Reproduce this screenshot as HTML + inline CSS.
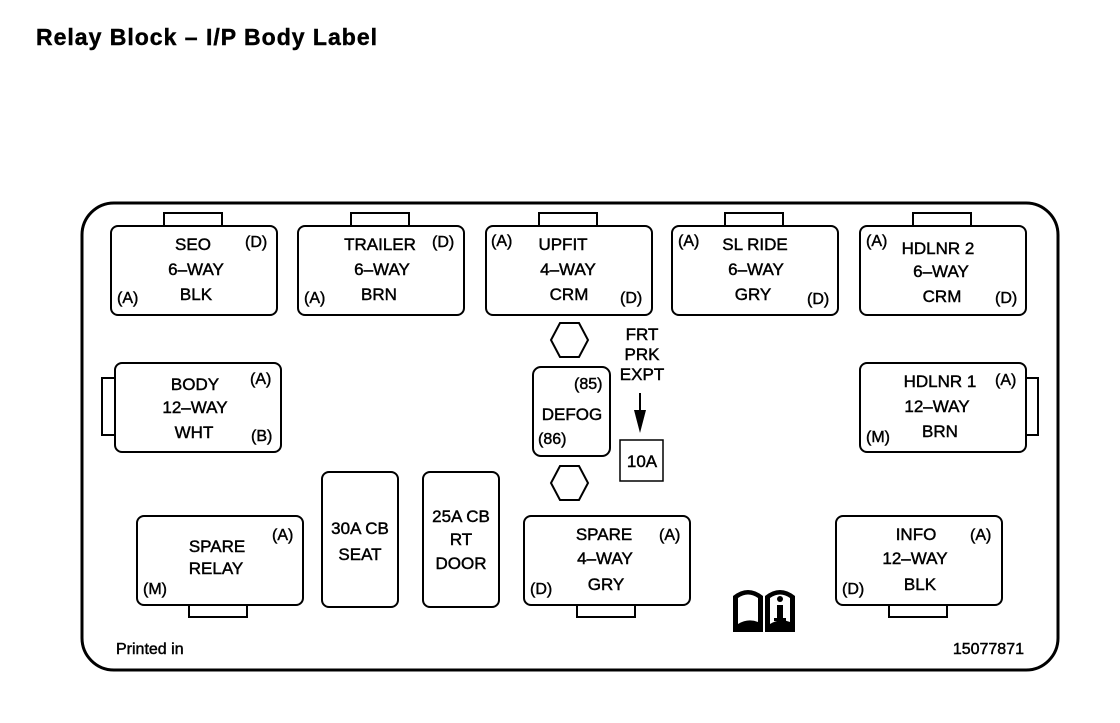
<!DOCTYPE html>
<html><head><meta charset="utf-8"><style>
body{margin:0;background:#fff;}
svg text{font-family:"Liberation Sans",Arial,sans-serif;fill:#000;stroke:#000;stroke-width:0.45;}
</style></head><body>
<svg width="1120" height="718" viewBox="0 0 1120 718" xmlns="http://www.w3.org/2000/svg">
<text x="36" y="45" font-size="23" font-weight="bold" stroke-width="0.3" textLength="341">Relay Block – I/P Body Label</text>
<rect x="82" y="203" width="976" height="467" rx="32" fill="none" stroke="#000" stroke-width="3"/>
<g fill="#fff" stroke="#000" stroke-width="2">
<rect x="164" y="213" width="58" height="13"/>
<rect x="351" y="213" width="58" height="13"/>
<rect x="539" y="213" width="58" height="13"/>
<rect x="725" y="213" width="58" height="13"/>
<rect x="913" y="213" width="58" height="13"/>
<rect x="111" y="226" width="166" height="89" rx="7"/>
<rect x="298" y="226" width="166" height="89" rx="7"/>
<rect x="486" y="226" width="166" height="89" rx="7"/>
<rect x="672" y="226" width="166" height="89" rx="7"/>
<rect x="860" y="226" width="166" height="89" rx="7"/>
<rect x="102" y="378" width="13" height="57"/>
<rect x="115" y="363" width="166" height="89" rx="7"/>
<rect x="1025" y="378" width="13" height="57"/>
<rect x="860" y="363" width="166" height="89" rx="7"/>
<rect x="533" y="367" width="77" height="89" rx="8"/>
<polygon points="560,323 579,323 588,340 579,357 560,357 551,340"/>
<polygon points="560,466 579,466 588,483 579,500 560,500 551,483"/>
<rect x="620" y="440" width="43" height="41" stroke-width="1.5"/>
<rect x="322" y="472" width="76" height="135" rx="7"/>
<rect x="423" y="472" width="76" height="135" rx="7"/>
<rect x="189" y="604" width="58" height="13"/>
<rect x="137" y="516" width="166" height="89" rx="7"/>
<rect x="577" y="604" width="58" height="13"/>
<rect x="524" y="516" width="166" height="89" rx="7"/>
<rect x="889" y="604" width="58" height="13"/>
<rect x="836" y="516" width="166" height="89" rx="7"/>
</g>
<line x1="640" y1="393" x2="640" y2="415" stroke="#000" stroke-width="2"/>
<polygon points="634,410 646,410 640,433" fill="#000"/>
<g font-size="17" text-anchor="middle">
<text x="193" y="250">SEO</text><text x="196" y="275">6–WAY</text><text x="196" y="300">BLK</text>
<text x="380" y="250">TRAILER</text><text x="382" y="275">6–WAY</text><text x="379" y="300">BRN</text>
<text x="563" y="250">UPFIT</text><text x="568" y="275">4–WAY</text><text x="569" y="300">CRM</text>
<text x="755" y="250">SL RIDE</text><text x="756" y="275">6–WAY</text><text x="753" y="300">GRY</text>
<text x="938" y="254">HDLNR 2</text><text x="941" y="277">6–WAY</text><text x="942" y="302">CRM</text>
<text x="195" y="390">BODY</text><text x="195" y="413">12–WAY</text><text x="194" y="438">WHT</text>
<text x="940" y="387">HDLNR 1</text><text x="937" y="412">12–WAY</text><text x="940" y="437">BRN</text>
<text x="572" y="420">DEFOG</text>
<text x="642" y="340">FRT</text><text x="642" y="360">PRK</text><text x="642" y="380">EXPT</text>
<text x="642" y="467">10A</text>
<text x="360" y="534">30A CB</text><text x="360" y="560">SEAT</text>
<text x="461" y="522">25A CB</text><text x="461" y="545">RT</text><text x="461" y="569">DOOR</text>
<text x="217" y="552">SPARE</text><text x="216" y="574">RELAY</text>
<text x="604" y="540">SPARE</text><text x="605" y="564">4–WAY</text><text x="606" y="590">GRY</text>
<text x="916" y="540">INFO</text><text x="915" y="564">12–WAY</text><text x="920" y="590">BLK</text>
</g>
<g font-size="16">
<text x="245" y="247">(D)</text><text x="117" y="303">(A)</text>
<text x="432" y="247">(D)</text><text x="304" y="303">(A)</text>
<text x="491" y="246">(A)</text><text x="620" y="303">(D)</text>
<text x="678" y="246">(A)</text><text x="807" y="304">(D)</text>
<text x="866" y="246">(A)</text><text x="995" y="303">(D)</text>
<text x="250" y="384">(A)</text><text x="251" y="441">(B)</text>
<text x="995" y="385">(A)</text><text x="866" y="442">(M)</text>
<text x="574" y="389">(85)</text><text x="538" y="444">(86)</text>
<text x="272" y="540">(A)</text><text x="143" y="594">(M)</text>
<text x="659" y="540">(A)</text><text x="530" y="594">(D)</text>
<text x="970" y="540">(A)</text><text x="842" y="594">(D)</text>
<text x="116" y="654">Printed in</text>
<text x="1024" y="654" text-anchor="end">15077871</text>
</g>
<g>
<path d="M733,632 L733,596 Q748,584 763,596 L763,632 Z" fill="#000"/>
<path d="M765,632 L765,596 Q780,584 795,596 L795,632 Z" fill="#000"/>
<path d="M738,624 L738,598 Q748,591 758,598 L758,622 Q748,618 738,624Z" fill="#fff"/>
<path d="M770,624 L770,598 Q780,591 790,598 L790,622 Q780,618 770,624Z" fill="#fff"/>
<circle cx="780" cy="599" r="3" fill="#000"/>
<rect x="777" y="605" width="6" height="14" fill="#000"/>
<rect x="774" y="618" width="12" height="3" fill="#000"/>
</g>
</svg>
</body></html>
